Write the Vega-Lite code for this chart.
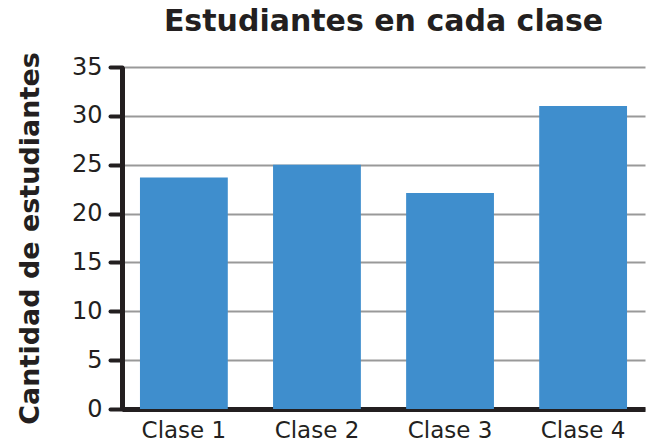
{
  "$schema": "https://vega.github.io/schema/vega-lite/v6.json",
  "autosize": "none",
  "width": 523,
  "height": 342,
  "padding": {"left": 122, "top": 67, "right": 5, "bottom": 36},
  "background": "white",
  "title": {
    "text": "Estudiantes en cada clase",
    "font": "DejaVu Sans",
    "fontSize": 30,
    "fontWeight": "bold",
    "color": "#231f20",
    "anchor": "middle",
    "offset": 15
  },
  "data": {
    "values": [
      {"clase": "Clase 1", "estudiantes": 23.7},
      {"clase": "Clase 2", "estudiantes": 25},
      {"clase": "Clase 3", "estudiantes": 22.1},
      {"clase": "Clase 4", "estudiantes": 31}
    ]
  },
  "config": {
    "view": {"stroke": null},
    "font": "DejaVu Sans"
  },
  "mark": {"type": "bar", "color": "#3f8ecd"},
  "encoding": {
    "x": {
      "field": "clase",
      "type": "nominal",
      "sort": null,
      "scale": {"paddingInner": 0.34, "paddingOuter": 0.135},
      "axis": {
        "title": null,
        "labelAngle": 0,
        "labelFont": "DejaVu Sans",
        "labelFontSize": 23,
        "labelColor": "#231f20",
        "labelPadding": 10,
        "ticks": false,
        "domainColor": "#231f20",
        "domainWidth": 5,
        "grid": false
      }
    },
    "y": {
      "field": "estudiantes",
      "type": "quantitative",
      "scale": {"domain": [0, 35], "nice": false},
      "axis": {
        "title": "Cantidad de estudiantes",
        "titleFont": "DejaVu Sans",
        "titleFontSize": 27,
        "titleFontWeight": "bold",
        "titleColor": "#231f20",
        "titlePadding": 27,
        "values": [0, 5, 10, 15, 20, 25, 30, 35],
        "labelFont": "DejaVu Sans",
        "labelFontSize": 24,
        "labelColor": "#231f20",
        "labelPadding": 8,
        "tickSize": 12,
        "tickWidth": 4,
        "tickColor": "#231f20",
        "tickCap": "round",
        "domainColor": "#231f20",
        "domainWidth": 5,
        "grid": true,
        "gridColor": "#999999",
        "gridWidth": 2
      }
    }
  }
}
